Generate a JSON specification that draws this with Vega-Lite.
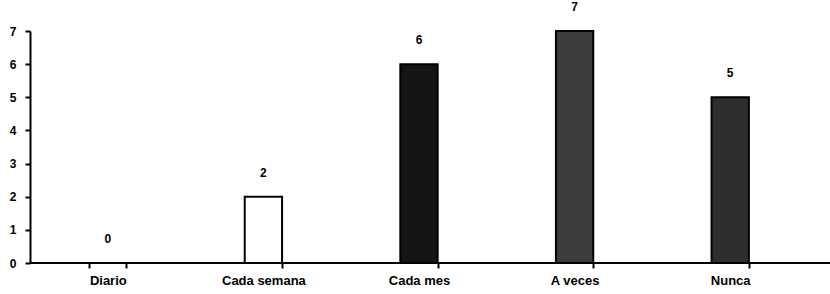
{
  "$schema": "https://vega.github.io/schema/vega-lite/v6.json",
  "autosize": {"type": "none"},
  "width": 800,
  "height": 232,
  "padding": {"left": 30, "top": 31, "right": 0, "bottom": 31},
  "background": "white",
  "config": {
    "view": {"stroke": null},
    "font": "Liberation Sans",
    "axisX": {"ticks": true, "tickSize": 5, "tickWidth": 2, "tickColor": "black"}
  },
  "data": {
    "values": [
      {"categoria": "Diario", "valor": 0},
      {"categoria": "Cada semana", "valor": 2},
      {"categoria": "Cada mes", "valor": 6},
      {"categoria": "A veces", "valor": 7},
      {"categoria": "Nunca", "valor": 5}
    ]
  },
  "encoding": {
    "x": {
      "field": "categoria",
      "type": "nominal",
      "sort": null,
      "scale": {"range": [0, 778], "paddingInner": 0.76, "paddingOuter": 0.38},
      "axis": {
        "title": null,
        "labelAngle": 0,
        "labelFont": "Liberation Sans",
        "labelFontWeight": "bold",
        "labelFontSize": 13,
        "labelColor": "black",
        "labelPadding": 6,
        "domain": false,
        "ticks": true,
        "tickColor": "black",
        "tickWidth": 2,
        "tickSize": 5,
        "tickBand": "extent",
        "grid": false
      }
    },
    "y": {
      "field": "valor",
      "type": "quantitative",
      "scale": {"domain": [0, 7], "nice": false},
      "axis": {
        "title": null,
        "values": [0, 1, 2, 3, 4, 5, 6, 7],
        "labelFont": "Liberation Sans",
        "labelFontWeight": "bold",
        "labelFontSize": 12,
        "labelColor": "black",
        "labelPadding": 9,
        "domainColor": "black",
        "domainWidth": 2,
        "tickColor": "black",
        "tickWidth": 2,
        "tickSize": 5,
        "grid": false
      }
    }
  },
  "layer": [
    {
      "mark": {"type": "bar", "stroke": "black", "strokeWidth": 2},
      "encoding": {
        "color": {
          "field": "categoria",
          "type": "nominal",
          "legend": null,
          "scale": {
            "domain": ["Diario", "Cada semana", "Cada mes", "A veces", "Nunca"],
            "range": ["#ffffff", "#ffffff", "#141414", "#3c3c3c", "#2e2e2e"]
          }
        }
      }
    },
    {
      "mark": {"type": "text", "baseline": "middle", "dy": -24, "font": "Liberation Sans", "fontWeight": "bold", "fontSize": 12, "color": "black"},
      "encoding": {
        "text": {"field": "valor", "type": "quantitative"}
      }
    },
    {
      "mark": {"type": "rule", "color": "black", "strokeWidth": 2},
      "encoding": {
        "x": null,
        "y": {"datum": 0, "type": "quantitative"}
      }
    }
  ]
}
